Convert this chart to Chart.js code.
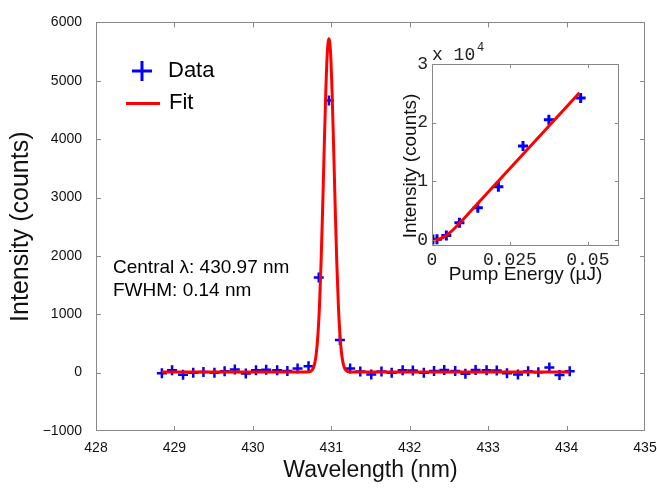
<!DOCTYPE html>
<html>
<head>
<meta charset="utf-8">
<script src="https://cdn.jsdelivr.net/npm/chart.js@4.4.1/dist/chart.umd.min.js"></script>
<style>
  body { margin: 0; background: #fff; }
  #wrap { position: relative; width: 657px; height: 488px; }
  #main { position: absolute; left: 0; top: 0; }
  #inset { position: absolute; left: 400px; top: 40px; }
</style>
</head>
<body>
<div id="wrap">
  <canvas id="main" width="657" height="488"></canvas>
  <canvas id="inset" width="230" height="250"></canvas>
</div>
<script>
// spectrum: measured points
const waveData = [428.84, 428.97, 429.11, 429.24, 429.37, 429.51, 429.64, 429.77, 429.91, 430.04,
  430.17, 430.31, 430.44, 430.57, 430.71, 430.84, 430.97, 431.11, 431.24, 431.37,
  431.51, 431.64, 431.77, 431.91, 432.04, 432.18, 432.31, 432.44, 432.58, 432.71,
  432.84, 432.98, 433.11, 433.24, 433.38, 433.51, 433.64, 433.78, 433.91, 434.04];
const countData = [-10, 40, -35, 0, 10, 0, 25, 55, -15, 40,
  50, 40, 30, 70, 110, 1630, 4660, 560, 70, 20,
  -30, 20, 0, 40, 35, 0, 30, 45, 30, -20,
  45, 40, 35, -10, -30, 25, 5, 90, -40, 25];

// spectrum: fitted curve
const waveFit = [428.84, 429.5, 430.2, 430.6, 430.70, 430.73, 430.75, 430.77, 430.79, 430.81,
  430.83, 430.85, 430.87, 430.89, 430.91, 430.93, 430.95, 430.97, 430.99, 431.01,
  431.03, 431.05, 431.07, 431.09, 431.11, 431.13, 431.15, 431.17, 431.19, 431.21,
  431.24, 431.34, 431.8, 432.5, 433.3, 434.04];
const countFit = [10, 10, 10, 10, 12, 19, 36, 77, 166, 342,
  657, 1165, 1893, 2823, 3855, 4815, 5497, 5720, 5497, 4815,
  3855, 2823, 1893, 1165, 657, 342, 166, 77, 36, 19,
  12, 10, 10, 10, 10, 10];

const waveTicks = [428, 429, 430, 431, 432, 433, 434, 435];
const countTicks = [-1000, 0, 1000, 2000, 3000, 4000, 5000, 6000];

// inset: output vs pump energy
const pumpData = [0.0003, 0.0016, 0.0046, 0.0088, 0.0147, 0.0213, 0.0292, 0.0375, 0.0477];
const outData = [100, 150, 800, 2950, 5500, 9100, 16050, 20500, 24200];
const pumpFit = [0.0008, 0.0025, 0.004, 0.006, 0.0085, 0.012, 0.0473];
const outFit = [0, 200, 600, 1400, 2700, 4700, 25100];
const pumpTicks = [0, 0.025, 0.05];
const outTicks = [0, 10000, 20000, 30000];

const BLUE = "#0000ff";
const RED = "#ff0000";
const SANS = "'Liberation Sans', Arial, sans-serif";
const MONO = "'Liberation Mono', 'Courier New', monospace";

const pts = (xs, ys) => xs.map((x, i) => ({ x: x, y: ys[i] }));

// box round the plot with inward tick marks on all four sides
const framePlugin = {
  id: "frame",
  afterDatasetsDraw(chart, args, opts) {
    const { ctx, chartArea: a, scales } = chart;
    const len = opts.len || 5;
    ctx.save();
    ctx.strokeStyle = opts.color || "#888";
    ctx.lineWidth = 1;
    ctx.strokeRect(Math.round(a.left) + 0.5, Math.round(a.top) + 0.5,
      Math.round(a.right - a.left) - 1, Math.round(a.bottom - a.top) - 1);
    ctx.beginPath();
    scales.x.ticks.forEach((t) => {
      const px = Math.round(scales.x.getPixelForValue(t.value)) + 0.5;
      if (px < a.left + 2 || px > a.right - 2) return;
      ctx.moveTo(px, a.bottom); ctx.lineTo(px, a.bottom - len);
      ctx.moveTo(px, a.top); ctx.lineTo(px, a.top + len);
    });
    scales.y.ticks.forEach((t) => {
      const py = Math.round(scales.y.getPixelForValue(t.value)) + 0.5;
      if (py < a.top + 2 || py > a.bottom - 2) return;
      ctx.moveTo(a.left, py); ctx.lineTo(a.left + len, py);
      ctx.moveTo(a.right, py); ctx.lineTo(a.right - len, py);
    });
    ctx.stroke();
    ctx.restore();
  },
};

// legend + fit annotation for the main plot
const notesPlugin = {
  id: "notes",
  afterDraw(chart) {
    const ctx = chart.ctx;
    const dsData = chart.data.datasets[1];
    const dsFit = chart.data.datasets[0];
    ctx.save();
    ctx.strokeStyle = dsData.borderColor;
    ctx.lineWidth = 3;
    ctx.beginPath();
    ctx.moveTo(132, 71); ctx.lineTo(152, 71);
    ctx.moveTo(142, 61); ctx.lineTo(142, 81);
    ctx.stroke();
    ctx.strokeStyle = dsFit.borderColor;
    ctx.beginPath();
    ctx.moveTo(126, 103.5); ctx.lineTo(160, 103.5);
    ctx.stroke();
    ctx.fillStyle = "#000";
    ctx.textBaseline = "middle";
    ctx.font = "22px " + SANS;
    ctx.fillText(dsData.label, 168, 71);
    ctx.fillText(dsFit.label, 169, 103);
    ctx.font = "19px " + SANS;
    ctx.fillText("Central \u03bb: 430.97 nm", 113, 268);
    ctx.fillText("FWHM: 0.14 nm", 113, 291);
    ctx.restore();
  },
};

// "x 10^4" multiplier and y title of the inset
const insetTextPlugin = {
  id: "insetText",
  afterDraw(chart) {
    const { ctx, chartArea: a } = chart;
    ctx.save();
    ctx.fillStyle = "#222";
    ctx.textBaseline = "alphabetic";
    ctx.font = "18px " + MONO;
    ctx.fillText("x 10", a.left, a.top - 4);
    ctx.font = "12px " + MONO;
    ctx.fillText("4", a.left + 45, a.top - 13);
    ctx.fillStyle = "#111";
    ctx.font = "19px " + SANS;
    ctx.textAlign = "center";
    ctx.textBaseline = "middle";
    ctx.translate(11, 126);
    ctx.rotate(-Math.PI / 2);
    ctx.fillText("Intensity (counts)", 0, 0);
    ctx.restore();
  },
};

new Chart(document.getElementById("main"), {
  type: "scatter",
  data: {
    datasets: [
      {
        label: "Fit",
        data: pts(waveFit, countFit),
        showLine: true,
        borderColor: RED,
        borderWidth: 3,
        pointRadius: 0,
        cubicInterpolationMode: "monotone",
        order: 0,
      },
      {
        label: "Data",
        data: pts(waveData, countData),
        pointStyle: "cross",
        pointRadius: 5,
        borderColor: BLUE,
        borderWidth: 2.5,
        order: 1,
      },
    ],
  },
  options: {
    responsive: false,
    animation: false,
    layout: { padding: { top: 22, right: 12, left: 0, bottom: 0 } },
    plugins: {
      legend: { display: false },
      tooltip: { enabled: false },
      frame: { color: "#888", len: 5 },
    },
    scales: {
      x: {
        type: "linear",
        min: 428,
        max: 435,
        afterBuildTicks: (s) => { s.ticks = waveTicks.map((v) => ({ value: v })); },
        afterFit: (s) => { s.height = 57; s.paddingLeft = 0; s.paddingRight = 0; },
        grid: { display: false, drawTicks: false },
        border: { display: false },
        ticks: { color: "#111", padding: 9, font: { family: SANS, size: 14 }, callback: (v) => String(v) },
        title: { display: true, text: "Wavelength (nm)", color: "#111", padding: { top: 2 }, font: { family: SANS, size: 23 } },
      },
      y: {
        type: "linear",
        min: -1000,
        max: 6000,
        afterBuildTicks: (s) => { s.ticks = countTicks.map((v) => ({ value: v })); },
        afterFit: (s) => { s.width = 96; },
        grid: { display: false, drawTicks: false },
        border: { display: false },
        ticks: { color: "#111", padding: 14, font: { family: SANS, size: 14 }, callback: (v) => String(v).replace("-", "\u2212") },
        title: { display: true, text: "Intensity (counts)", color: "#111", padding: { top: 6 }, font: { family: SANS, size: 25 } },
      },
    },
  },
  plugins: [framePlugin, notesPlugin],
});

new Chart(document.getElementById("inset"), {
  type: "scatter",
  data: {
    datasets: [
      {
        label: "Fit",
        data: pts(pumpFit, outFit),
        showLine: true,
        borderColor: RED,
        borderWidth: 3,
        pointRadius: 0,
        cubicInterpolationMode: "monotone",
        order: 0,
      },
      {
        label: "Data",
        data: pts(pumpData, outData),
        pointStyle: "cross",
        pointRadius: 5,
        borderColor: BLUE,
        borderWidth: 3,
        order: 1,
      },
    ],
  },
  options: {
    responsive: false,
    animation: false,
    layout: { padding: { top: 24, right: 11, left: 0, bottom: 0 } },
    plugins: {
      legend: { display: false },
      tooltip: { enabled: false },
      frame: { color: "#888", len: 4 },
    },
    scales: {
      x: {
        type: "linear",
        min: 0,
        max: 0.06,
        afterBuildTicks: (s) => { s.ticks = pumpTicks.map((v) => ({ value: v })); },
        afterFit: (s) => { s.height = 44; },
        grid: { display: false, drawTicks: false },
        border: { display: false },
        ticks: { color: "#222", padding: 3, font: { family: MONO, size: 18 }, callback: (v) => String(+v.toFixed(3)) },
        title: { display: true, text: "Pump Energy (\u00b5J)", color: "#111", padding: { top: 2 }, font: { family: SANS, size: 19 } },
      },
      y: {
        type: "linear",
        min: -1000,
        max: 30000,
        afterBuildTicks: (s) => { s.ticks = outTicks.map((v) => ({ value: v })); },
        afterFit: (s) => { s.width = 32; },
        grid: { display: false, drawTicks: false },
        border: { display: false },
        ticks: { color: "#222", padding: 4, font: { family: MONO, size: 18 }, callback: (v) => String(v / 10000) },
      },
    },
  },
  plugins: [framePlugin, insetTextPlugin],
});
</script>
</body>
</html>
